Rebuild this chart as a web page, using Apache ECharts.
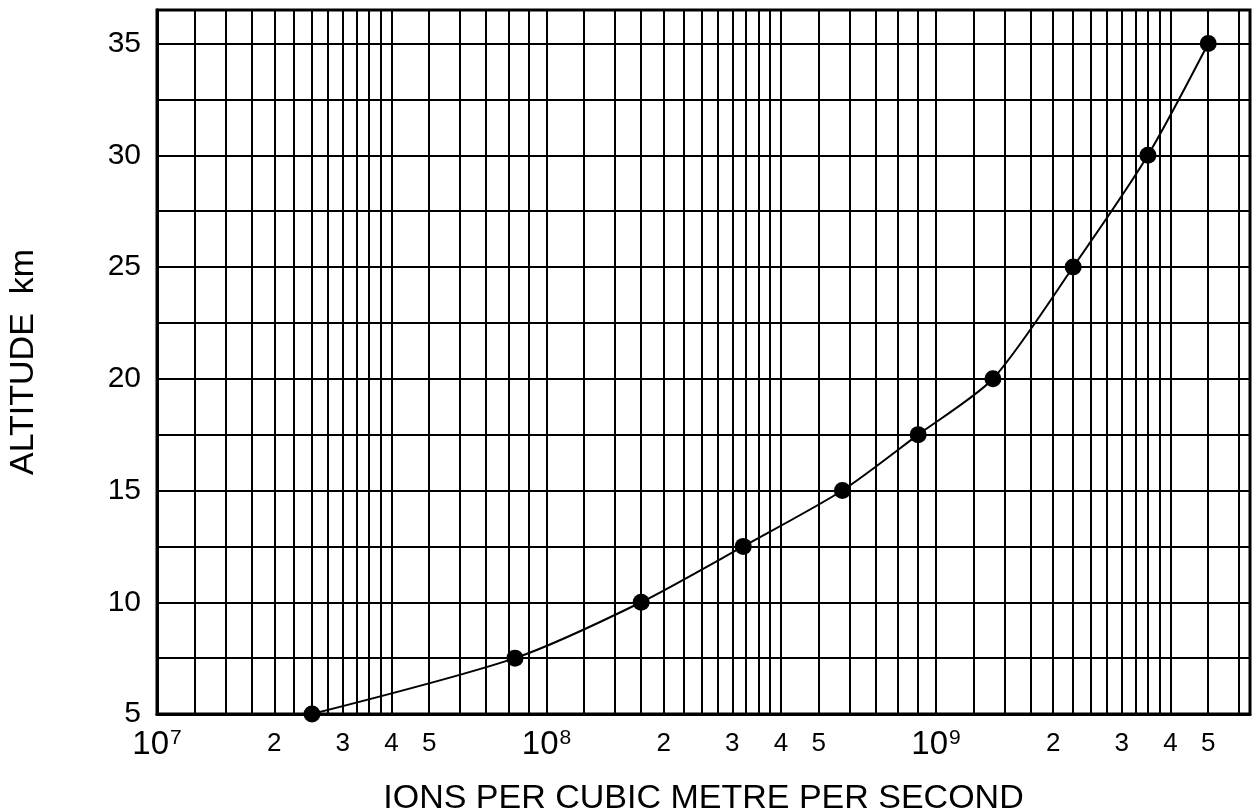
<!DOCTYPE html>
<html>
<head>
<meta charset="utf-8">
<title>Ion production vs altitude</title>
<script src="https://cdn.jsdelivr.net/npm/echarts@6.0.0/dist/echarts.min.js"></script>
<style>
  html, body { margin: 0; padding: 0; background: #fff; }
  #chart { width: 1254px; height: 812px; }
</style>
</head>
<body>
<div id="chart"></div>
<script>
// values
var ionRate = [2.5e7, 8.3e7, 1.75e8, 3.2e8, 5.75e8, 9.0e8, 1.4e9, 2.25e9, 3.5e9, 5.0e9];
var altitude = [5, 7.5, 10, 12.5, 15, 17.5, 20, 25, 30, 35];

// axis ticks
var decades = [1e7, 1e8, 1e9];
var gridMantissa = [1, 1.25, 1.5, 1.75, 2, 2.25, 2.5, 2.75, 3, 3.25, 3.5, 3.75, 4, 5, 6, 7, 8, 9];
var labelMantissa = [1, 2, 3, 4, 5];
var altLabels = [5, 10, 15, 20, 25, 30, 35];
var xMin = 1e7, xMax = 6.4e9;
var yMin = 5, yMax = 36.5, yStep = 2.5;

var numFont = "'Liberation Sans', sans-serif";

function spread(mantissas) {
    var out = [];
    decades.forEach(function (d) {
        mantissas.forEach(function (m) {
            var v = m * d;
            if (v <= xMax) out.push(v);
        });
    });
    return out;
}

var gridValues = spread(gridMantissa);
var labelValues = spread(labelMantissa);

function xLabel(v) {
    if (v < 100) v = Math.pow(10, v);
    var e = Math.floor(Math.log10(v) + 1e-6);
    var m = Math.round(v / Math.pow(10, e));
    return m === 1 ? '{d|10}{e|' + e + '}' : '{m|' + m + '}';
}

var points = ionRate.map(function (v, i) { return [v, altitude[i]]; });

var option = {
    animation: false,
    backgroundColor: '#fff',
    grid: {
        left: 157, right: 4, top: 10, bottom: 98,
        outerBoundsMode: 'none',
        containLabel: false,
        show: true, borderColor: '#000', borderWidth: 3
    },
    xAxis: {
        type: 'log',
        logBase: 10,
        min: xMin,
        max: xMax,
        name: 'IONS PER CUBIC METRE PER SECOND',
        nameLocation: 'middle',
        nameGap: 68,
        nameTextStyle: { fontFamily: numFont, fontSize: 34, color: '#000' },
        axisLine: { show: true, lineStyle: { color: '#000', width: 3 } },
        axisTick: { show: false, customValues: gridValues },
        axisLabel: {
            customValues: labelValues,
            formatter: xLabel,
            margin: 14,
            color: '#000',
            rich: {
                d: { fontFamily: numFont, fontSize: 33, lineHeight: 34, color: '#000' },
                e: { fontFamily: numFont, fontSize: 21, lineHeight: 18, verticalAlign: 'top', color: '#000', padding: [0, 0, 0, 1] },
                m: { fontFamily: numFont, fontSize: 26, lineHeight: 32, color: '#000' }
            }
        },
        splitLine: { show: true, lineStyle: { color: '#000', width: 2 } }
    },
    yAxis: {
        type: 'value',
        min: yMin,
        max: yMax,
        interval: yStep,
        name: 'ALTITUDE  km',
        nameLocation: 'middle',
        nameGap: 116,
        nameTextStyle: { fontFamily: numFont, fontSize: 34, color: '#000' },
        axisLine: { show: true, lineStyle: { color: '#000', width: 3 } },
        axisTick: { show: false },
        axisLabel: {
            customValues: altLabels,
            margin: 16,
            fontFamily: numFont,
            fontSize: 30,
            color: '#000'
        },
        splitLine: { show: true, lineStyle: { color: '#000', width: 2 } }
    },
    series: [{
        type: 'line',
        data: points,
        smooth: 0.25,
        symbol: 'circle',
        symbolSize: 17,
        itemStyle: { color: '#000' },
        lineStyle: { color: '#000', width: 2 },
        z: 5
    }]
};

var chart = echarts.init(document.getElementById('chart'), null, { renderer: 'canvas' });
chart.setOption(option);
</script>
</body>
</html>
